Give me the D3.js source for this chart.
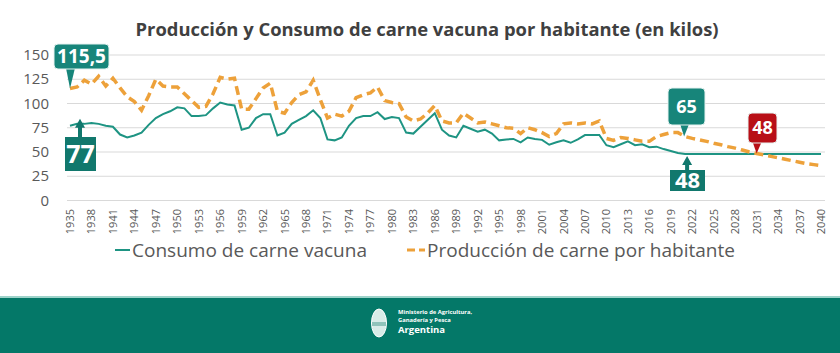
<!DOCTYPE html>
<html>
<head>
<meta charset="utf-8">
<script src="https://cdn.jsdelivr.net/npm/d3@7"></script>
<style>
  body { margin: 0; background: #fff; }
  svg { display: block; font-family: "Open Sans", "Liberation Sans", sans-serif; }
</style>
</head>
<body>
<svg id="chart" width="840" height="353"></svg>
<script>
// years 1935..2040
var years = d3.range(1935, 2041)

var consumo = [
  77, 79, 79, 80, 79, 77, 76, 68, 65, 67,        // 1935-1944
  70, 78, 85, 89, 92, 96, 95, 87, 87, 88,        // 1945-1954
  95, 101, 99, 98, 73, 75, 85, 89, 89, 67,       // 1955-1964
  70, 79, 83, 87, 93, 85, 63, 62, 65, 77,        // 1965-1974
  85, 87, 87, 91, 84, 86, 85, 70, 69, 76,        // 1975-1984
  83, 90, 73, 67, 65, 77, 74, 71, 73, 69,        // 1985-1994
  62, 63, 63.5, 60, 65, 63.5, 62.5, 57.5, 60, 62, // 1995-2004
  59.5, 63, 67.5, 67.5, 67.5, 57, 55, 58, 61, 57, // 2005-2014
  58, 55, 55.5, 53, 51, 49, 48, 48, 48, 48,      // 2015-2024
  48, 48, 48, 48, 48, 48, 48, 48, 48, 48,        // 2025-2034
  48, 48, 48, 48, 48, 48                         // 2035-2040
]

var produccion = [
  115.5, 117, 124, 120, 128, 118, 126, 116, 107, 102, // 1935-1944
  93, 108, 125, 118, 117, 117, 110, 103, 96, 97,      // 1945-1954
  110, 127, 125, 126, 94, 94, 105, 116, 121, 92,      // 1955-1964
  90, 101, 109, 112, 124, 104, 85, 89, 87, 92,        // 1965-1974
  106, 109, 111, 117, 103, 101, 100, 86, 82, 84,      // 1975-1984
  90, 98, 82, 80, 80, 90, 85, 80, 81, 79,             // 1985-1994
  77, 75, 74.5, 69, 75, 73, 70, 66, 69, 79,           // 1995-2004
  80, 79, 80, 79, 82, 64, 62, 65, 64, 62.5,           // 2005-2014
  61, 61, 66, 68, 70, 70, 66, 64, 62.5, 61,           // 2015-2024
  59, 57.5, 55.5, 54, 52, 50, 48.5, 47, 45.5, 44,     // 2025-2034
  42.5, 41, 39.5, 38, 37, 36                          // 2035-2040
]

var yTicks = [0, 25, 50, 75, 100, 125, 150]
var xTickYears = d3.range(1935, 2041, 3)

var titleText = "Producción y Consumo de carne vacuna por habitante (en kilos)"
var legendConsumo = "Consumo de carne vacuna"
var legendProduccion = "Producción de carne por habitante"

var teal = "#1e9483"
var orange = "#eda13a"
var boxTeal = "#17857a"
var boxRed = "#b80f17"
var grey = "#595959"

var svg = d3.select("#chart")

var x = d3.scaleLinear().domain([1935, 2040]).range([70, 821])
var y = d3.scaleLinear().domain([0, 150]).range([200.5, 55])

// title
svg.append("text")
  .attr("x", 427).attr("y", 36)
  .attr("text-anchor", "middle")
  .attr("font-size", 17).attr("font-weight", "bold")
  .attr("fill", "#404040")
  .attr("textLength", 583).attr("lengthAdjust", "spacingAndGlyphs")
  .text(titleText)

// grid lines
svg.append("g").selectAll("line")
  .data(yTicks).enter().append("line")
  .attr("x1", 67).attr("x2", 825)
  .attr("y1", d => y(d)).attr("y2", d => y(d))
  .attr("stroke", "#d9d9d9").attr("stroke-width", 1)

// y labels
svg.append("g").selectAll("text")
  .data(yTicks).enter().append("text")
  .attr("x", 49).attr("y", d => y(d) + 5)
  .attr("text-anchor", "end")
  .attr("font-size", 15).attr("fill", grey)
  .text(d => d)

// x labels (rotated)
svg.append("g").selectAll("text")
  .data(xTickYears).enter().append("text")
  .attr("transform", d => "translate(" + (x(d) + 4) + ",209) rotate(-90)")
  .attr("text-anchor", "end")
  .attr("font-size", 11).attr("fill", grey)
  .text(d => d)

// lines
var line = d3.line().x((d, i) => x(years[i])).y(d => y(d))

svg.append("path")
  .datum(consumo)
  .attr("d", line)
  .attr("fill", "none").attr("stroke", teal).attr("stroke-width", 2)

svg.append("path")
  .datum(produccion)
  .attr("d", line)
  .attr("fill", "none").attr("stroke", orange).attr("stroke-width", 3.5)
  .attr("stroke-dasharray", "9,5")

// callouts
function calloutDown(cx, top, w, h, tipX, tipY, color, label, fs){
  var g = svg.append("g")
  g.append("path")
    .attr("d", "M" + (tipX - 4) + "," + (top + h - 1) + "L" + (tipX + 5) + "," + (top + h - 1) + "L" + tipX + "," + tipY + "Z")
    .attr("fill", color)
  g.append("rect")
    .attr("x", cx - w / 2).attr("y", top).attr("width", w).attr("height", h)
    .attr("rx", 4).attr("fill", color)
    .attr("stroke", "#e6f2f0").attr("stroke-width", 1)
  g.append("text")
    .attr("x", cx).attr("y", top + h / 2 + fs * 0.36)
    .attr("text-anchor", "middle")
    .attr("font-size", fs).attr("font-weight", "bold").attr("fill", "#fff")
    .text(label)
}

function calloutUp(cx, top, w, h, tipX, tipY, color, label, fs){
  var g = svg.append("g")
  var headH = 9, headW = 5, shaftW = 2
  g.append("path")
    .attr("d",
      "M" + (tipX - shaftW) + "," + top +
      "L" + (tipX - shaftW) + "," + (tipY + headH) +
      "L" + (tipX - headW) + "," + (tipY + headH) +
      "L" + tipX + "," + tipY +
      "L" + (tipX + headW) + "," + (tipY + headH) +
      "L" + (tipX + shaftW) + "," + (tipY + headH) +
      "L" + (tipX + shaftW) + "," + top + "Z")
    .attr("fill", color)
  g.append("rect")
    .attr("x", cx - w / 2).attr("y", top).attr("width", w).attr("height", h)
    .attr("fill", color)
  g.append("text")
    .attr("x", cx).attr("y", top + h / 2 + fs * 0.36)
    .attr("text-anchor", "middle")
    .attr("font-size", fs).attr("font-weight", "bold").attr("fill", "#fff")
    .text(label)
}

calloutDown(81.5, 44, 55, 25, x(1935), y(produccion[0]), boxTeal, "115,5", 19)
calloutUp(80.5, 137, 31, 34, x(1935) + 10, y(consumo[0]) - 7, "#11786d", "77", 25)
calloutDown(686.5, 88, 37, 37, x(2021) - 1, y(65) - 1, boxTeal, "65", 18)
calloutDown(762.5, 113, 29, 30, x(2031), y(48.5), boxRed, "48", 18)
calloutUp(687.5, 170, 35, 21, x(2021) + 2, y(48) + 2, "#11786d", "48", 22)

// legend
var lg = svg.append("g")
lg.append("line").attr("x1", 115).attr("x2", 130).attr("y1", 250).attr("y2", 250)
  .attr("stroke", teal).attr("stroke-width", 2)
lg.append("text").attr("x", 132).attr("y", 257)
  .attr("font-size", 19).attr("fill", grey)
  .attr("textLength", 235).attr("lengthAdjust", "spacingAndGlyphs")
  .text(legendConsumo)
lg.append("line").attr("x1", 407).attr("x2", 425).attr("y1", 250).attr("y2", 250)
  .attr("stroke", orange).attr("stroke-width", 3).attr("stroke-dasharray", "8,4")
lg.append("text").attr("x", 427).attr("y", 257)
  .attr("font-size", 19).attr("fill", grey)
  .attr("textLength", 308).attr("lengthAdjust", "spacingAndGlyphs")
  .text(legendProduccion)

// footer band
svg.append("rect").attr("x", 0).attr("y", 297).attr("width", 840).attr("height", 56)
  .attr("fill", "#047868")
svg.append("rect").attr("x", 0).attr("y", 296).attr("width", 840).attr("height", 2)
  .attr("fill", "#9ed3ca")

var logo = svg.append("g")
logo.append("ellipse").attr("cx", 379).attr("cy", 323).attr("rx", 7.5).attr("ry", 14)
  .attr("fill", "#d8ece8").attr("stroke", "#ffffff").attr("stroke-width", 1)
logo.append("rect").attr("x", 372).attr("y", 322).attr("width", 14).attr("height", 4)
  .attr("fill", "#8fc3ba")
logo.append("text").attr("x", 398).attr("y", 314)
  .attr("font-size", 5.8).attr("font-weight", "bold").attr("fill", "#fff")
  .text("Ministerio de Agricultura,")
logo.append("text").attr("x", 398).attr("y", 321.5)
  .attr("font-size", 5.8).attr("font-weight", "bold").attr("fill", "#fff")
  .text("Ganadería y Pesca")
logo.append("text").attr("x", 398).attr("y", 333)
  .attr("font-size", 9.5).attr("font-weight", "bold").attr("fill", "#fff")
  .text("Argentina")
</script>
</body>
</html>
